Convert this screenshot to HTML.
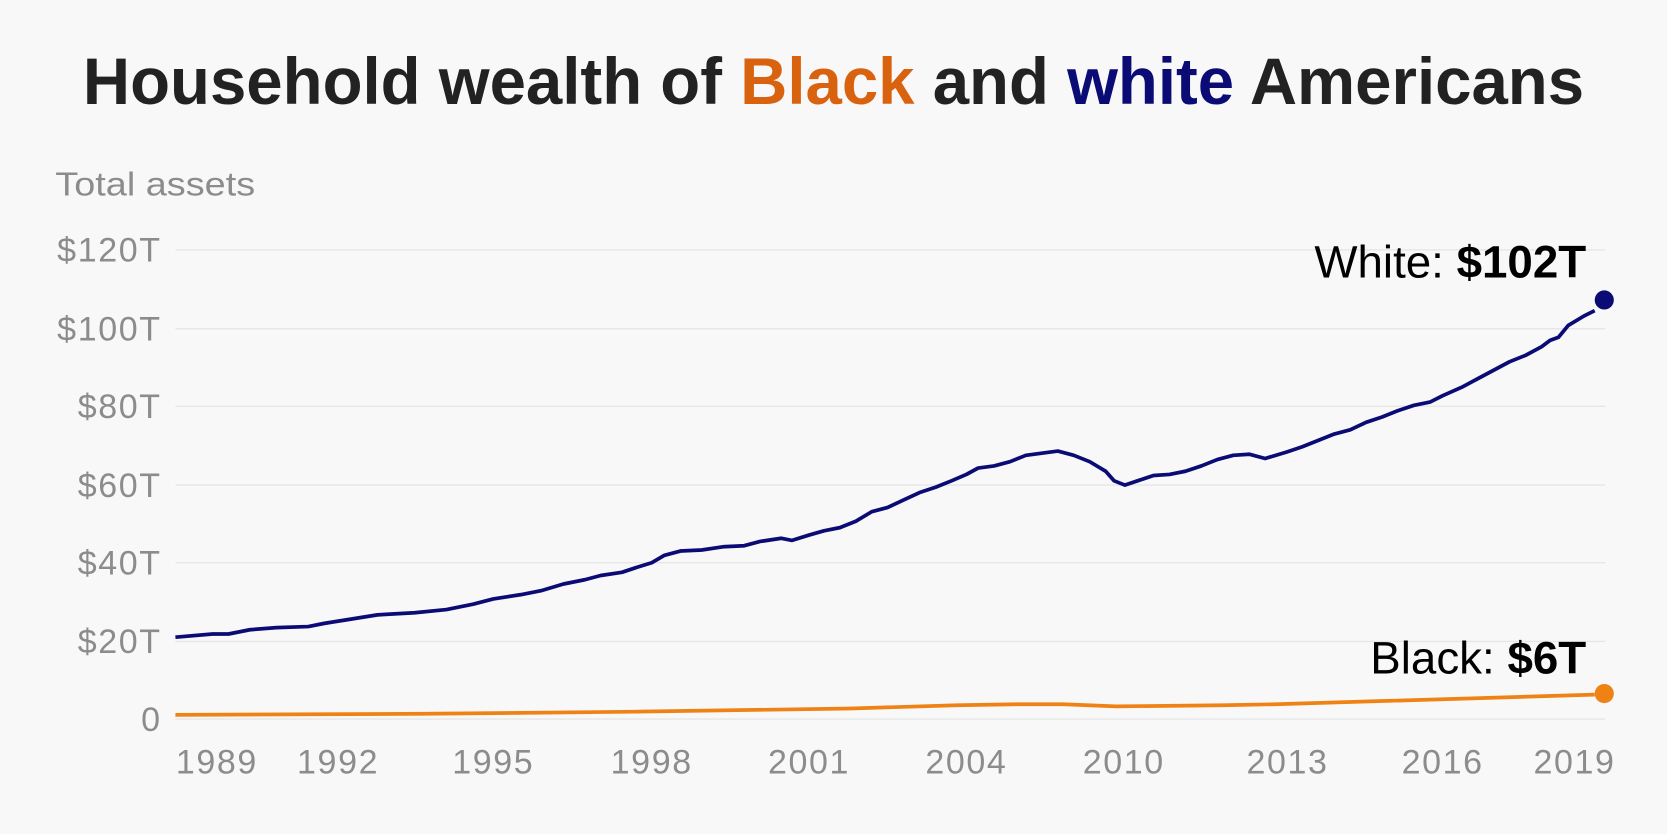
<!DOCTYPE html>
<html><head><meta charset="utf-8"><style>
html,body{margin:0;padding:0;background:#f8f8f8;}
svg{display:block;}
text{font-family:"Liberation Sans",sans-serif;}
</style></head><body>
<svg width="1667" height="834" viewBox="0 0 1568 784" preserveAspectRatio="none">
<rect width="1568" height="784" fill="#f8f8f8"/>
<text x="784" y="98" text-anchor="middle" font-size="62" font-weight="bold" fill="#222" textLength="1412" lengthAdjust="spacingAndGlyphs">Household wealth of <tspan fill="#d9620e">Black</tspan> and <tspan fill="#0b0b75">white</tspan> Americans</text>
<text x="52" y="184" font-size="31" fill="#8c8c8c" textLength="188" lengthAdjust="spacingAndGlyphs">Total assets</text>
<g stroke="#e6e6e6" stroke-width="1.3">
<line x1="165" x2="1510" y1="235" y2="235"/><line x1="165" x2="1510" y1="309" y2="309"/>
<line x1="165" x2="1510" y1="382" y2="382"/><line x1="165" x2="1510" y1="456" y2="456"/>
<line x1="165" x2="1510" y1="529" y2="529"/><line x1="165" x2="1510" y1="603" y2="603"/>
<line x1="165" x2="1510" y1="676" y2="676"/>
</g>
<g font-size="32" fill="#8c8c8c" text-anchor="end" letter-spacing="1.5">
<text x="152" y="246">$120T</text><text x="152" y="320">$100T</text><text x="152" y="393">$80T</text>
<text x="152" y="467">$60T</text><text x="152" y="540">$40T</text><text x="152" y="614">$20T</text>
<text x="152" y="687">0</text>
</g>
<g font-size="32" fill="#8c8c8c" text-anchor="middle" letter-spacing="1.5">
<text x="204" y="727">1989</text><text x="318" y="727">1992</text><text x="464" y="727">1995</text>
<text x="613" y="727">1998</text><text x="761" y="727">2001</text><text x="909" y="727">2004</text>
<text x="1057" y="727">2010</text><text x="1211" y="727">2013</text><text x="1357" y="727">2016</text>
<text x="1481" y="727">2019</text>
</g>
<polyline fill="none" stroke="#0b0b75" stroke-width="3.5" stroke-linejoin="round" points="165,599 200,596 215,596 235,592 260,590 290,589 305,586 330,582 355,578 390,576 420,573 445,568 464,563 490,559 510,555 530,549 550,545 565,541 585,538 600,533 613,529 625,522 640,518 660,517 680,514 700,513 715,509 735,506 745,508 761,503 775,499 790,496 805,490 820,481 835,477 850,470 865,463 880,458 895,452 909,446 920,440 935,438 950,434 965,428 980,426 995,424 1010,428 1025,434 1040,443 1048,452 1058,456 1070,452 1085,447 1100,446 1115,443 1130,438 1145,432 1160,428 1175,427 1190,431 1210,425 1225,420 1240,414 1255,408 1270,404 1285,397 1300,392 1315,386 1330,381 1345,378 1357,372 1375,364 1390,356 1405,348 1420,340 1435,334 1450,326 1458,320 1466,317 1475,306 1490,297 1500,292"/>
<circle cx="1509" cy="282" r="9" fill="#0b0b75"/>
<polyline fill="none" stroke="#ef8215" stroke-width="3.5" points="165,672 400,671 600,669 800,666 900,663 960,662 1000,662 1050,664 1150,663 1200,662 1300,659 1400,656 1500,653"/>
<circle cx="1509" cy="652" r="9" fill="#ef8215"/>
<text x="1492" y="261" text-anchor="end" font-size="43" fill="#000">White: <tspan font-weight="bold">$102T</tspan></text>
<text x="1492" y="633" text-anchor="end" font-size="43" fill="#000">Black: <tspan font-weight="bold">$6T</tspan></text>
</svg>
</body></html>
